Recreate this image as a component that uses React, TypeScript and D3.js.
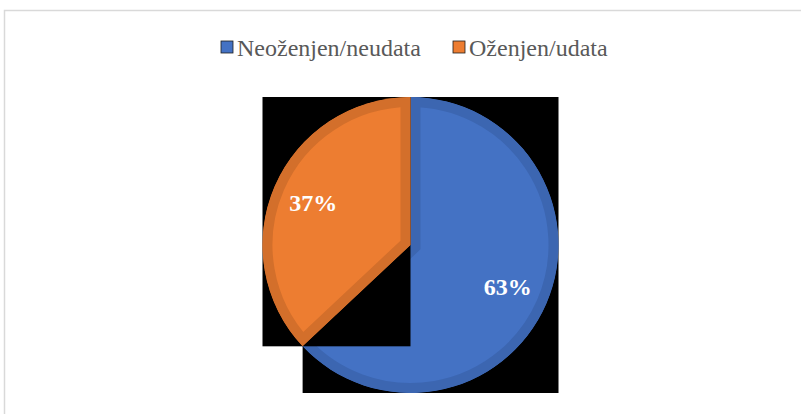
import * as d3 from "d3";
import React from "react";

const categories = ["Neoženjen/neudata", "Oženjen/udata"];
const shares = [63, 37];
const colors = ["#4472C4", "#ED7D31"];
const edgeColors = ["#3C66B1", "#D36F2B"];

const width = 801;
const height = 414;
const cx = 410.5;
const cy = 245;
const radius = 148;

// bounding box of a slice (center + arc ends + any quadrant extremes inside the range)
function sliceBox(a0: number, a1: number, r: number) {
  const pts: [number, number][] = [[0, 0]];
  const at = (a: number): [number, number] => [Math.sin(a) * r, -Math.cos(a) * r];
  pts.push(at(a0), at(a1));
  for (let k = 0; k <= 4; k++) {
    const a = (k * Math.PI) / 2;
    if (a > a0 && a < a1) pts.push(at(a));
  }
  const xs = pts.map(p => p[0]);
  const ys = pts.map(p => p[1]);
  return { x0: d3.min(xs)!, x1: d3.max(xs)!, y0: d3.min(ys)!, y1: d3.max(ys)! };
}

const serif = "'Liberation Serif', 'Times New Roman', serif";

export default function App() {
  const pie = d3.pie<number>().sort(null).value(d => d);
  const arcs = pie(shares);
  const arc = d3.arc<d3.PieArcDatum<number>>().innerRadius(0).outerRadius(radius);
  const labelArc = d3.arc<d3.PieArcDatum<number>>().innerRadius(106).outerRadius(106);

  const legendY = 47;
  const legendItems = [
    { x: 221, label: categories[0], color: colors[0] },
    { x: 453, label: categories[1], color: colors[1] },
  ];

  return (
    <div style={{ position: "fixed", left: 0, top: 0 }}>
      <svg width={width} height={height} style={{ display: "block" }}>
        <rect x={0} y={0} width={width} height={height} fill="#fff" />
        <rect x={4.5} y={10.5} width={830} height={430} fill="none" stroke="#d9d9d9" strokeWidth={1.5} />

        {legendItems.map((d, i) => (
          <g key={i}>
            <rect x={d.x} y={legendY - 6} width={12} height={12} fill={d.color} stroke="#1f1f1f" strokeWidth={0.8} />
            <text x={d.x + 16} y={legendY + 1} dominantBaseline="central"
              fontFamily={serif} fontSize={24} fill="#595959">
              {d.label}
            </text>
          </g>
        ))}

        <defs>
          {arcs.map((a, i) => (
            <clipPath id={`clip${i}`} key={i}>
              <path d={arc(a)!} transform={`translate(${cx},${cy})`} />
            </clipPath>
          ))}
        </defs>

        {arcs.map((a, i) => {
          const b = sliceBox(a.startAngle, a.endAngle, radius);
          return (
            <g key={i}>
              <rect x={cx + b.x0} y={cy + b.y0} width={b.x1 - b.x0} height={b.y1 - b.y0} fill="#000" />
              <g clipPath={`url(#clip${i})`}>
                <path d={arc(a)!} transform={`translate(${cx},${cy})`} fill={colors[i]}
                  stroke={edgeColors[i]} strokeWidth={20} strokeLinejoin="miter" />
              </g>
            </g>
          );
        })}

        {arcs.map((a, i) => {
          const [lx, ly] = labelArc.centroid(a);
          return (
            <text key={i} x={cx + lx} y={cy + ly} textAnchor="middle" dominantBaseline="central"
              fontFamily={serif} fontWeight="bold" fontSize={24} fill="#fff">
              {a.data}%
            </text>
          );
        })}
      </svg>
    </div>
  );
}
